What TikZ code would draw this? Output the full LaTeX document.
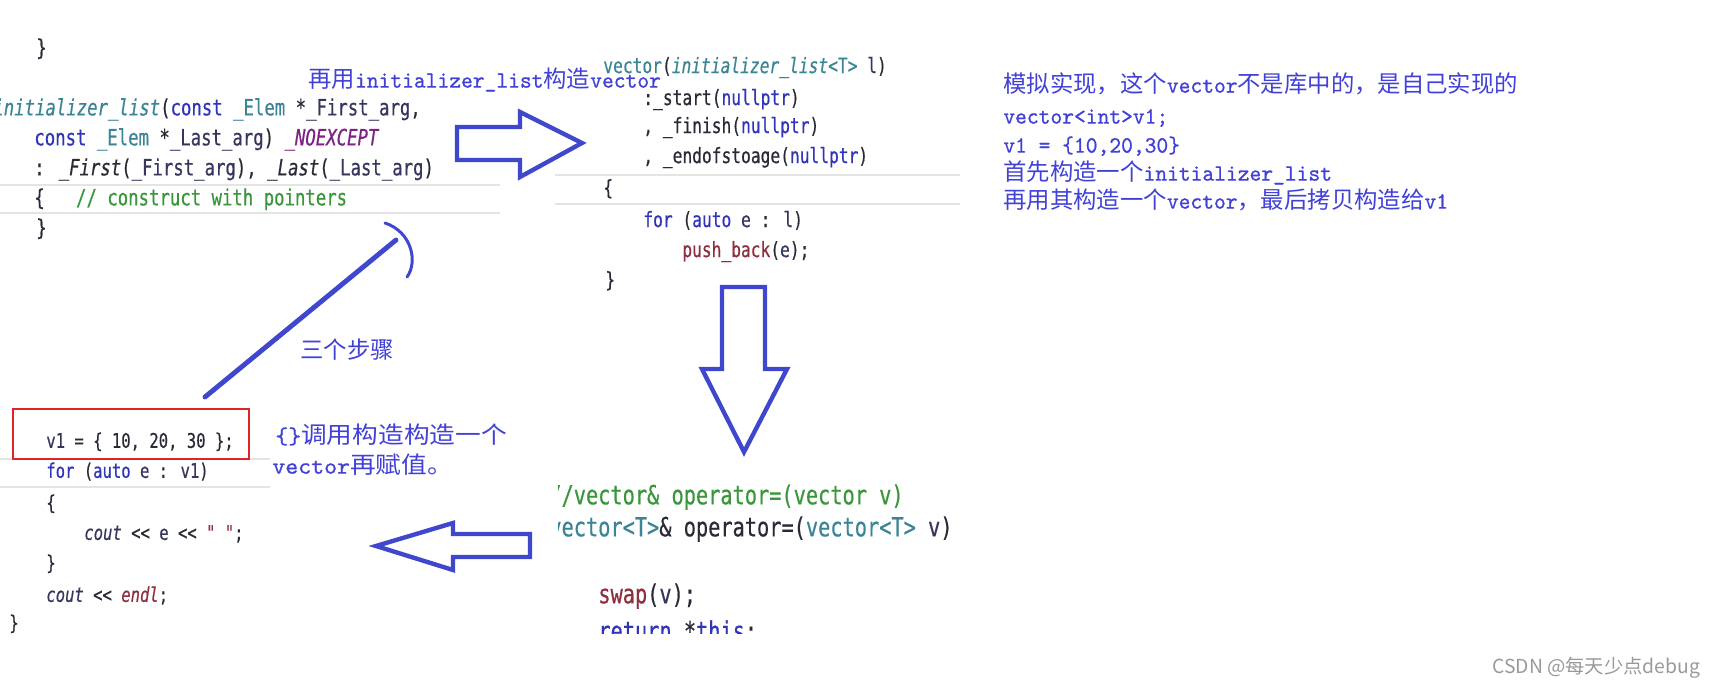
\documentclass[tikz,border=0pt]{standalone}
\usepackage{fontspec}
\usepackage{tikz}
\newfontfamily\codefont[FakeStretch=0.77, FakeBold=0.5]{DejaVu Sans Mono}
\newfontfamily\cjkfont{Noto Sans CJK SC}
\newfontfamily\notelatin[FakeBold=0.8, FakeStretch=0.96]{lmmono10-regular.otf}
\definecolor{penblue}{HTML}{3F48CC}
\definecolor{noteblue}{HTML}{4141D8}
\definecolor{codeink}{HTML}{2A2A36}
\definecolor{kwblue}{HTML}{2F34B8}
\definecolor{typeteal}{HTML}{3A8496}
\definecolor{paramnavy}{HTML}{35355E}
\definecolor{fnred}{HTML}{8E2F3F}
\definecolor{cmtgreen}{HTML}{3A963A}
\definecolor{macropurple}{HTML}{7D2383}
\definecolor{rulegray}{HTML}{E4E4E4}
\definecolor{boxred}{HTML}{E02424}
\newcommand\ckw[1]{\textcolor{kwblue}{#1}}
\newcommand\cty[1]{\textcolor{typeteal}{#1}}
\newcommand\cpa[1]{\textcolor{paramnavy}{#1}}
\newcommand\cfn[1]{\textcolor{fnred}{#1}}
\newcommand\ccm[1]{\textcolor{cmtgreen}{#1}}
\newcommand\cmc[1]{\textcolor{macropurple}{#1}}
\newcommand\nlat[1]{{\notelatin #1}}

\begin{document}
\begin{tikzpicture}[
  x=0.02cm, y=-0.02cm,
  code/.style={anchor=west, inner sep=0pt, text=codeink, execute at begin node=\strut},
  codeA/.style={code, font=\codefont\fontsize{12.8}{15.4}\selectfont},
  codeB/.style={code, font=\codefont\fontsize{12}{14.4}\selectfont},
  codeC/.style={code, font=\codefont\fontsize{11.5}{13.8}\selectfont},
  codeD/.style={code, font=\codefont\fontsize{15}{18}\selectfont},
  note/.style={anchor=west, inner sep=0pt, text=noteblue,
               font=\cjkfont\fontsize{13.3}{16}\selectfont, execute at begin node=\strut},
  hollow/.style={draw=penblue, line width=2.5pt, line join=miter, fill=white},
  pen/.style={draw=penblue, line width=2.8pt, line cap=round},
  rule/.style={draw=rulegray, line width=0.9pt},
  redbox/.style={draw=boxred, line width=0.8pt},
]
\useasboundingbox (0,0) rectangle (1713,688);

% initializer_list constructor
\draw[rule] (0,185) -- (500,185);
\draw[rule] (0,213) -- (500,213);
\node[codeA] (il0) at (36,50) {\}};
\node[codeA] (il1) at (-7,110) {\cty{\textit{initializer\_list}}(\ckw{const} \cty{\_Elem} *\cpa{\_First\_arg},};
\node[codeA] (il2) at (34,140) {\ckw{const} \cty{\_Elem} *\cpa{\_Last\_arg}) \cmc{\textit{\_NOEXCEPT}}};
\node[codeA] (il3) at (34,170) {: \textit{\_First}(\cpa{\_First\_arg}), \textit{\_Last}(\cpa{\_Last\_arg})};
\node[codeA] (il4) at (34,200) {\{\ \ \ \ccm{// construct with pointers}};
\node[codeA] (il5) at (36,230) {\}};

% vector(initializer_list<T>)
\draw[rule] (555,175) -- (960,175);
\draw[rule] (555,204) -- (960,204);
\node[codeB] (vc1) at (603,68) {\cty{vector}(\cty{\textit{initializer\_list}}\cty{<T>} \cpa{l})};
\node[codeB] (vc2) at (643,100) {:\_start(\ckw{nullptr})};
\node[codeB] (vc3) at (643,128) {, \_finish(\ckw{nullptr})};
\node[codeB] (vc4) at (643,158) {, \_endofstoage(\ckw{nullptr})};
\node[codeB] (vc5) at (603,190) {\{};
\node[codeB] (vc6) at (643,222) {\ckw{for} (\ckw{auto} \cpa{e} : \cpa{l})};
\node[codeB] (vc7) at (682,252) {\cfn{push\_back}(\cpa{e});};
\node[codeB] (vc8) at (605,282) {\}};

% operator=
\begin{scope}
\clip (558,440) rectangle (1020,633);
\node[codeD] (op1) at (549,498) {\ccm{//vector\& operator=(vector v)}};
\node[codeD] (op2) at (549,530) {\cty{vector<T>}\& operator=(\cty{vector<T>} \cpa{v})};
\node[codeD] (op3) at (598,597) {\cfn{swap}(\cpa{v});};
\node[codeD] (op4) at (598,634) {\ckw{return} *\ckw{this};};
\end{scope}

% main
\draw[rule] (0,459) -- (270,459);
\draw[rule] (0,487) -- (270,487);
\node[codeC] (mn1) at (46,443) {\cpa{v1} = \{ 10, 20, 30 \};};
\node[codeC] (mn2) at (46,473) {\ckw{for} (\ckw{auto} \cpa{e} : \cpa{v1})};
\node[codeC] (mn3) at (46,505) {\{};
\node[codeC] (mn4) at (84,535) {\textit{\cpa{cout}} << \cpa{e} << \cfn{" "};};
\node[codeC] (mn5) at (46,565) {\}};
\node[codeC] (mn6) at (46,597) {\textit{\cpa{cout}} << \cfn{\textit{endl}};};
\node[codeC] (mn7) at (9,625) {\}};
\draw[redbox] (13,409) rectangle (249,459);

% block arrows
\draw[hollow] (457,127) -- (520,127) -- (520,112) -- (582,143) -- (520,177)
  -- (520,160) -- (457,160) -- cycle;
\draw[hollow] (722,287) -- (765,287) -- (765,369) -- (787,369) -- (744,452)
  -- (702,369) -- (722,369) -- cycle;
\draw[hollow] (530,534) -- (453,534) -- (453,523) -- (376,546) -- (453,570)
  -- (453,557) -- (530,557) -- cycle;

% hand stroke
\coordinate (strokeA) at (205,397);
\coordinate (strokeB) at (396,240);
\draw[pen] (strokeA) -- (strokeB);
\draw[pen, line width=1.7pt] (385,223) .. controls (412,232) and (418,262) .. (407,277);

% notes
\node[note] (lbl) at (308,82) {再用\nlat{initializer\_list}构造\nlat{vector}};
\node[note] (steps) at (300,353) {三个步骤};
\node[note] (nb1) at (275,438) {\scalebox{1.1}[1]{\nlat{\{\}}调用构造构造一个}};
\node[note] (nb2) at (272,468) {\scalebox{1.1}[1]{\nlat{vector}再赋值。}};
\node[note] (nr1) at (1003,87) {模拟实现，这个\nlat{vector}不是库中的，是自己实现的};
\node[note] (nr2) at (1003,118) {\nlat{vector<int>v1;}};
\node[note] (nr3) at (1003,147) {\nlat{v1 = \{10,20,30\}}};
\node[note] (nr4) at (1003,175) {首先构造一个\nlat{initializer\_list}};
\node[note] (nr5) at (1003,203) {再用其构造一个\nlat{vector}，最后拷贝构造给\nlat{v1}};

\node[anchor=west, inner sep=0pt, text=black!40, font=\cjkfont\fontsize{11}{13}\selectfont]
  (mark) at (1492,668) {CSDN @每天少点debug};
\end{tikzpicture}
\end{document}
